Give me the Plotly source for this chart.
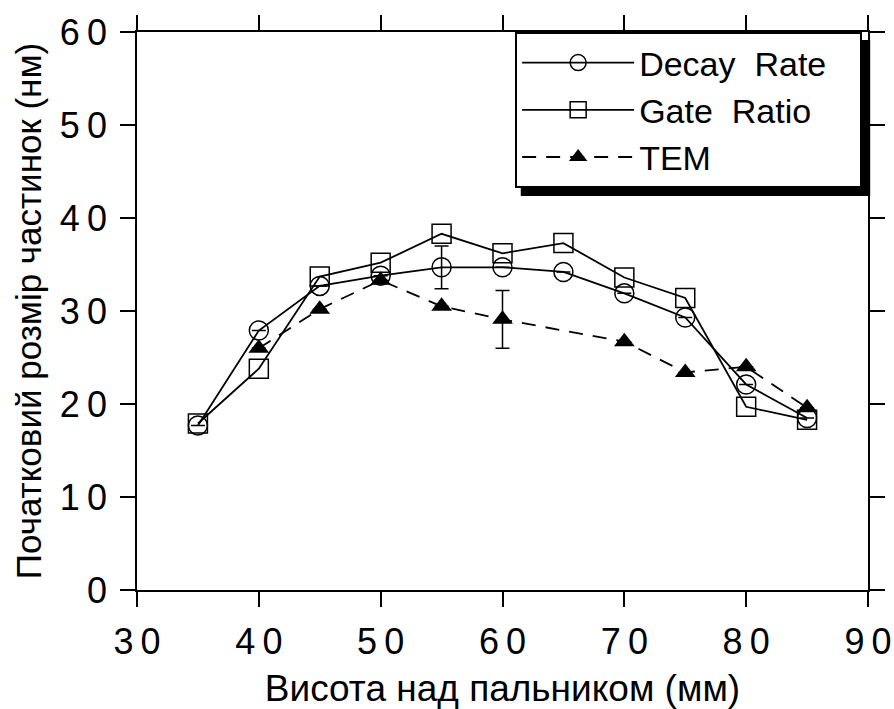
import plotly.graph_objects as go

heights = [35, 40, 45, 50, 55, 60, 65, 70, 75, 80, 85]
decay_rate = [17.7, 27.9, 32.7, 33.8, 34.7, 34.7, 34.2, 31.9, 29.3, 22.1, 18.5]
decay_err = [0, 0, 0, 0, 2.3, 0, 0, 0, 0, 0, 0]
gate_ratio = [17.9, 23.8, 33.7, 35.2, 38.3, 36.2, 37.3, 33.6, 31.4, 19.7, 18.3]
tem_heights = [40, 45, 50, 55, 60, 70, 75, 80, 85]
tem = [26.0, 30.2, 33.3, 30.5, 29.1, 26.7, 23.4, 24.0, 19.6]
tem_err = [0, 0, 0, 0, 3.1, 0, 0, 0, 0]

x_ticks = [30, 40, 50, 60, 70, 80, 90]
y_ticks = [0, 10, 20, 30, 40, 50, 60]
x_title = "Висота над пальником (мм)"
y_title = "Початковий розмір частинок (нм)"
series_names = ["Decay  Rate", "Gate  Ratio", "TEM"]

def spaced(v):
    return "\u2009".join(str(v))

PAD = "\u00a0\u00a0\u00a0"
FONT = "Liberation Sans, Arial, sans-serif"

fig = go.Figure()
fig.add_trace(go.Scatter(
    x=heights, y=decay_rate, name=series_names[0] + PAD, mode="lines+markers",
    line=dict(color="black", width=1.8),
    marker=dict(symbol="circle-open", size=19, color="black", line=dict(width=1.5)),
    error_y=dict(type="data", array=decay_err, visible=True, color="black", thickness=1.5, width=7),
))
fig.add_trace(go.Scatter(
    x=heights, y=gate_ratio, name=series_names[1], mode="lines+markers",
    line=dict(color="black", width=1.8),
    marker=dict(symbol="square-open", size=19, color="black", line=dict(width=1.5)),
))
fig.add_trace(go.Scatter(
    x=tem_heights, y=tem, name=series_names[2], mode="lines+markers",
    line=dict(color="black", width=1.8, dash="14px,10px"),
    marker=dict(symbol="triangle-up", size=18, color="black"),
    error_y=dict(type="data", array=tem_err, visible=True, color="black", thickness=1.5, width=7),
))

axis_common = dict(
    showgrid=False, zeroline=False, showline=True, linecolor="black", linewidth=1.5,
    mirror="ticks", ticks="outside", ticklen=15, tickwidth=1.5, tickcolor="black",
    tickfont=dict(family=FONT, size=36, color="black"), automargin=False,
)
fig.update_xaxes(
    range=[30, 90], tickvals=x_ticks, ticktext=[spaced(v) for v in x_ticks],
    title=dict(text=x_title, font=dict(family=FONT, size=37, color="black"), standoff=14),
    ticklabelstandoff=4, **axis_common,
)
fig.update_yaxes(
    range=[0, 60], tickvals=y_ticks, ticktext=[spaced(v) for v in y_ticks],
    title=dict(text=y_title, font=dict(family=FONT, size=35, color="black"), standoff=8),
    ticklabelstandoff=6, **axis_common,
)

fig.update_layout(
    width=894, height=709,
    margin=dict(l=137, r=26, t=32, b=119),
    paper_bgcolor="white", plot_bgcolor="white",
    showlegend=True,
    legend=dict(
        x=0.992, y=1.0, xanchor="right", yanchor="top",
        bgcolor="white", bordercolor="black", borderwidth=2,
        font=dict(family=FONT, size=34, color="black"),
        tracegroupgap=0, itemwidth=112,
    ),
    shapes=[dict(
        type="rect", xref="paper", yref="paper", layer="above",
        x0=0.525, x1=1.003, y0=0.706, y1=0.9857,
        fillcolor="black", line=dict(width=0),
    )],
)

fig.write_html("out.html")
